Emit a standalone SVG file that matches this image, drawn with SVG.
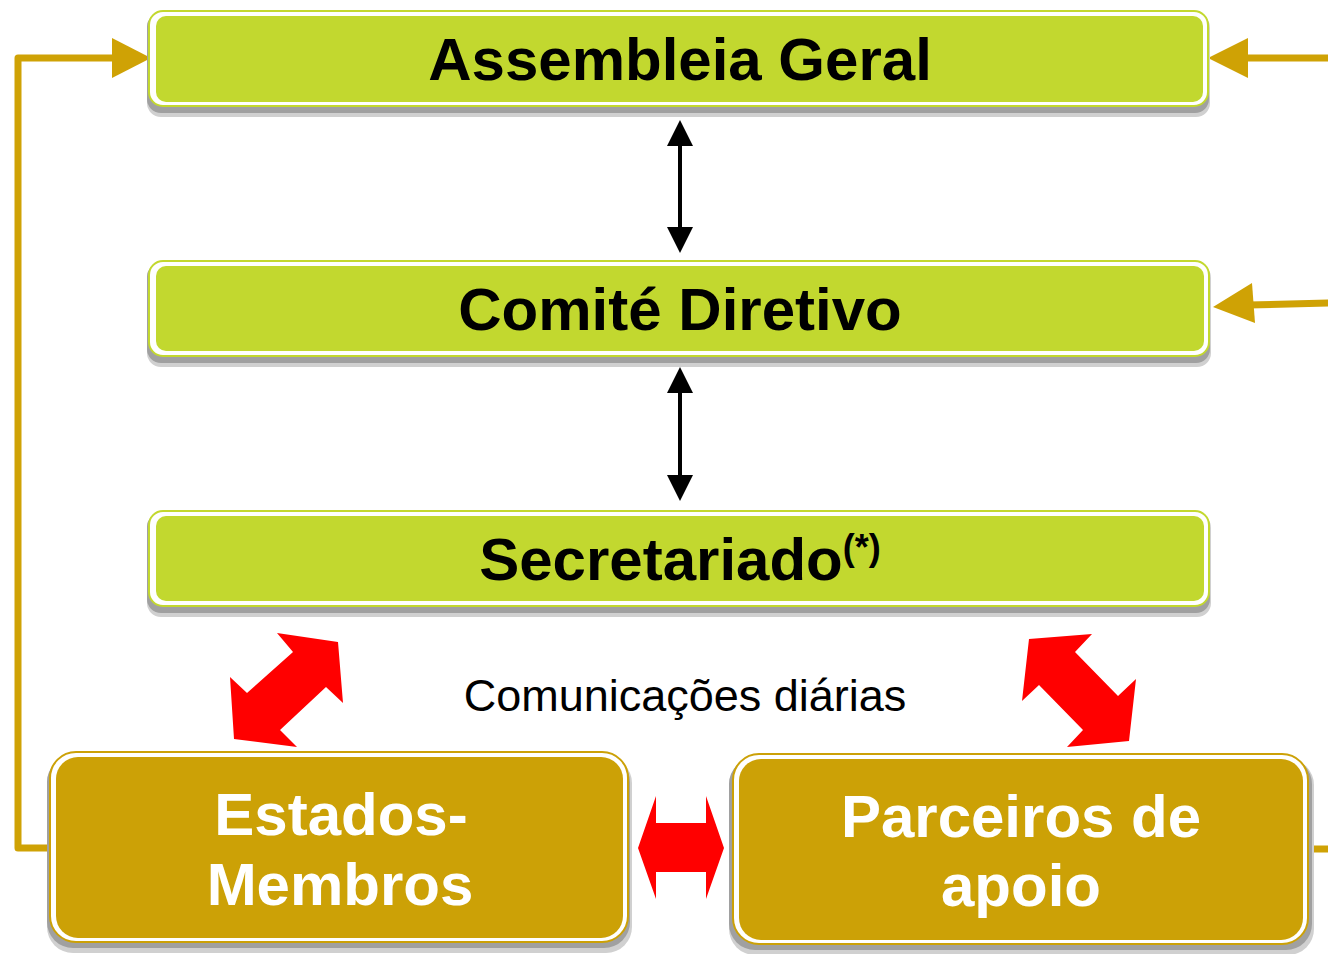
<svg xmlns="http://www.w3.org/2000/svg" width="1328" height="954" viewBox="0 0 1328 954">
<defs>
<style>
.shadow{fill:#a0a0a0;}
.shadow2{fill:#d0d0d0;}
.gOuter{fill:#ffffff;stroke:#c3d82f;stroke-width:2;}
.gInner{fill:#c2d82f;}
.bOuter{fill:#ffffff;stroke:#cca107;stroke-width:2;}
.bInner{fill:#cca106;}
.title{font-family:"Liberation Sans",Arial,sans-serif;font-weight:bold;font-size:60px;fill:#000000;text-anchor:middle;}
.wtitle{font-family:"Liberation Sans",Arial,sans-serif;font-weight:bold;font-size:60px;fill:#ffffff;text-anchor:middle;}
.label{font-family:"Liberation Sans",Arial,sans-serif;font-size:45px;fill:#000000;text-anchor:middle;}
.gold{fill:none;stroke:#cfa205;stroke-width:7;stroke-linejoin:round;stroke-linecap:round;}
.goldHead{fill:#cfa205;}
.blk{stroke:#000000;stroke-width:4;fill:none;}
.blkHead{fill:#000000;}
.red{fill:#ff0000;}
</style>
</defs>

<g id="connectors">
  <polyline class="gold" points="52,848 18,848 18,58 116,58"/>
  <polygon class="goldHead" points="112,38 151,58 112,78"/>
  <line class="gold" x1="1332" y1="58" x2="1244" y2="58" style="stroke-linecap:butt"/>
  <polygon class="goldHead" points="1248,38 1208,58 1248,78"/>
  <line class="gold" x1="1332" y1="303" x2="1248" y2="305" style="stroke-linecap:butt"/>
  <polygon class="goldHead" points="1252,283 1213,307 1255,323"/>
  <line class="gold" x1="1306" y1="849" x2="1332" y2="849" style="stroke-linecap:butt"/>

  <line class="blk" x1="680" y1="140" x2="680" y2="233"/>
  <polygon class="blkHead" points="680,120 667,146 693,146"/>
  <polygon class="blkHead" points="680,253 667,227 693,227"/>
  <line class="blk" x1="680" y1="387" x2="680" y2="481"/>
  <polygon class="blkHead" points="680,367 667,393 693,393"/>
  <polygon class="blkHead" points="680,501 667,475 693,475"/>

  <polygon class="red" points="277,633 338,642 343,703 326,687 280,730 297,747 234,739 230,677 247,693 293,652"/>
  <polygon class="red" points="1029,639 1092,634 1075,652 1118,696 1136,679 1129,741 1067,747 1083,730 1039,685 1022,701"/>
  <polygon class="red" points="638,848 656,796 656,823 706,823 706,796 724,848 706,899 706,872 656,872 656,899"/>
</g>

<g id="assembleia">
  <rect class="shadow2" x="147" y="14" width="1063" height="103" rx="14"/>
  <rect class="shadow" x="147" y="13" width="1062" height="100" rx="14"/>
  <rect class="gOuter" x="149" y="11" width="1059" height="95" rx="14"/>
  <rect class="gInner" x="156" y="16" width="1047" height="86" rx="10"/>
  <text class="title" x="680" y="80">Assembleia Geral</text>
</g>

<g id="comite">
  <rect class="shadow2" x="147" y="264" width="1064" height="103" rx="14"/>
  <rect class="shadow" x="147" y="263" width="1063" height="100" rx="14"/>
  <rect class="gOuter" x="149" y="261" width="1060" height="95" rx="14"/>
  <rect class="gInner" x="156" y="266" width="1048" height="85" rx="10"/>
  <text class="title" x="680" y="330">Comité Diretivo</text>
</g>

<g id="secretariado">
  <rect class="shadow2" x="147" y="514" width="1064" height="103" rx="14"/>
  <rect class="shadow" x="147" y="513" width="1063" height="100" rx="14"/>
  <rect class="gOuter" x="149" y="511" width="1060" height="95" rx="14"/>
  <rect class="gInner" x="156" y="516" width="1048" height="85" rx="10"/>
  <text class="title" x="680" y="580">Secretariado<tspan font-size="36" dy="-20">(*)</tspan></text>
</g>

<text id="comunicacoes" class="label" x="685" y="711">Comunicações diárias</text>

<g id="estados">
  <rect class="shadow2" x="47" y="757" width="585" height="196" rx="26"/>
  <rect class="shadow" x="47" y="756" width="583" height="192" rx="26"/>
  <rect class="bOuter" x="50" y="752" width="578" height="190" rx="26"/>
  <rect class="bInner" x="56" y="757" width="567" height="181" rx="22"/>
  <text class="wtitle" x="341" y="835">Estados-</text>
  <text class="wtitle" x="340" y="905">Membros</text>
</g>

<g id="parceiros">
  <rect class="shadow2" x="729" y="759" width="585" height="196" rx="26"/>
  <rect class="shadow" x="729" y="758" width="583" height="192" rx="26"/>
  <rect class="bOuter" x="733" y="754" width="575" height="190" rx="26"/>
  <rect class="bInner" x="739" y="759" width="564" height="181" rx="22"/>
  <text class="wtitle" x="1021" y="837">Parceiros de</text>
  <text class="wtitle" x="1021" y="906">apoio</text>
</g>
</svg>
